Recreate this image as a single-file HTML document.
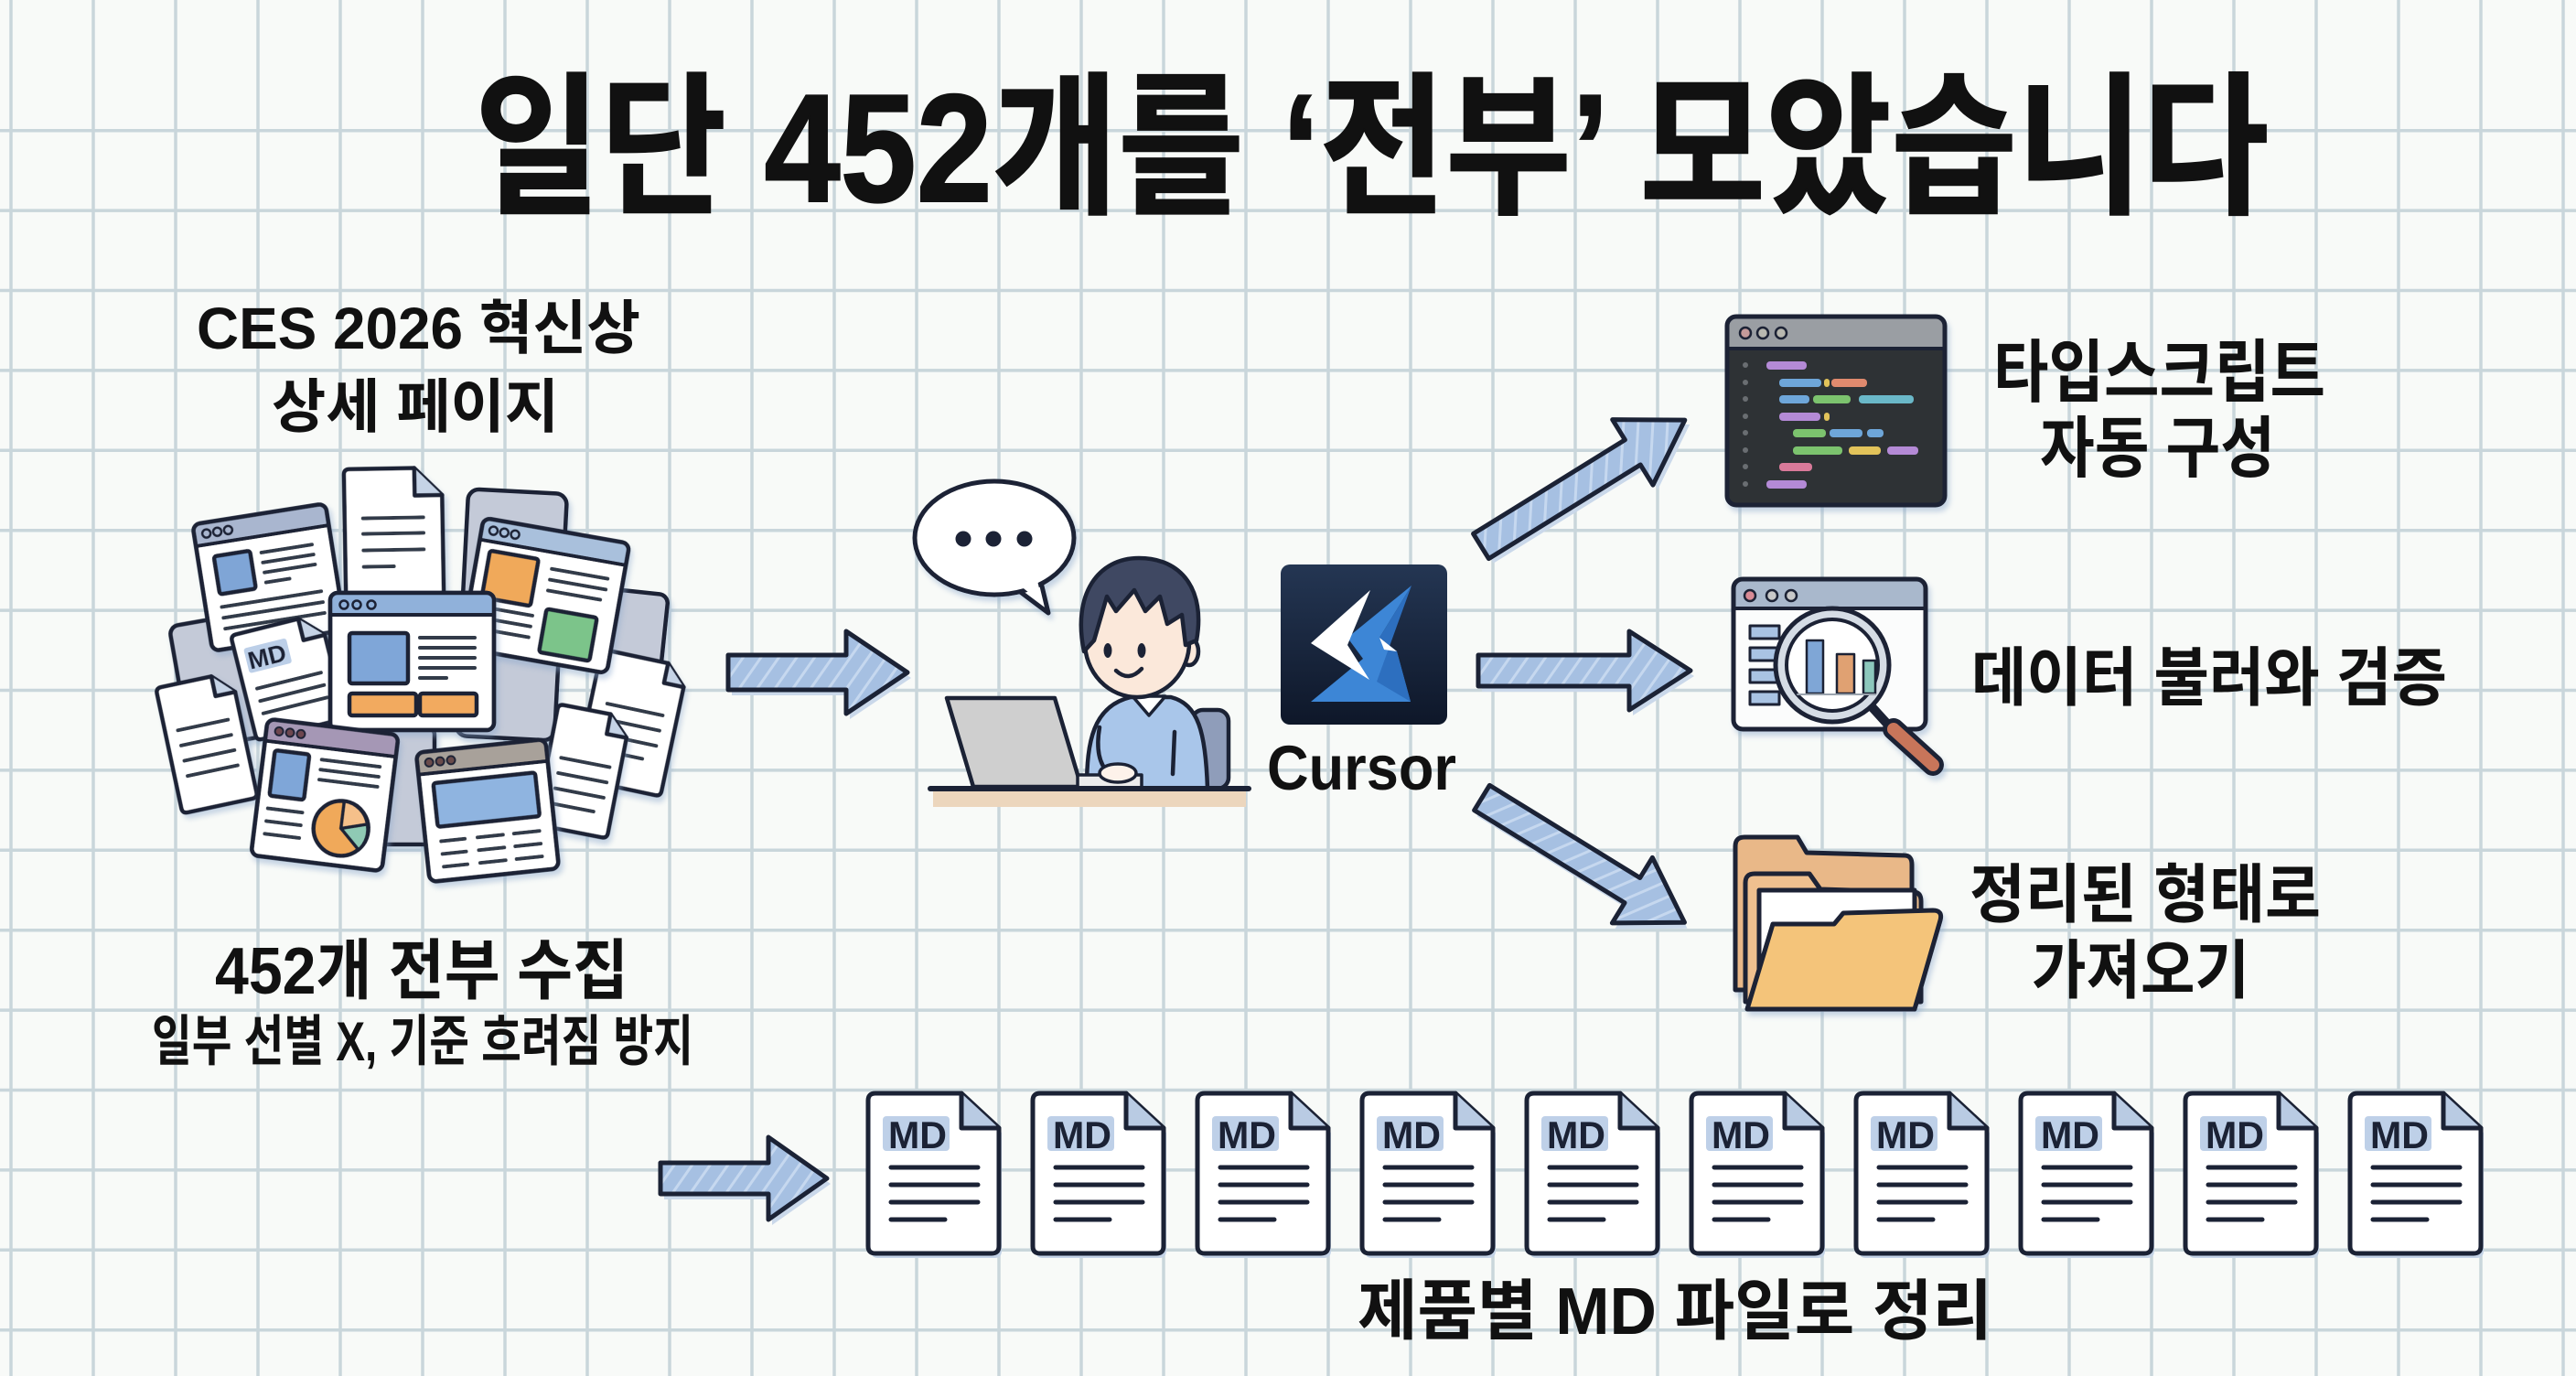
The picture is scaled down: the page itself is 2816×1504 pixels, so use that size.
<!DOCTYPE html>
<html><head><meta charset="utf-8"><style>
html,body{margin:0;padding:0;background:#f8faf8;}
svg{display:block;}
text{font-family:"Liberation Sans","Noto Sans CJK KR",sans-serif;font-weight:700;fill:#111;}
</style></head><body>
<svg width="2816" height="1504" viewBox="0 0 2816 1504" xmlns="http://www.w3.org/2000/svg">
<defs>
<pattern id="hatch" width="16" height="16" patternUnits="userSpaceOnUse" patternTransform="rotate(35)">
<rect width="16" height="16" fill="#a6c0e2"/><line x1="4" y1="0" x2="4" y2="16" stroke="#c6d8ef" stroke-width="3"/></pattern>
<linearGradient id="cg" x1="0" y1="0" x2="0" y2="1"><stop offset="0" stop-color="#243653"/><stop offset="1" stop-color="#0e1729"/></linearGradient>
<filter id="sh" x="-20%" y="-20%" width="140%" height="140%"><feDropShadow dx="3" dy="5" stdDeviation="3" flood-color="#8aa6cc" flood-opacity="0.45"/></filter>
</defs>
<rect width="2816" height="1504" fill="#f8faf8"/>
<g stroke="#c9d6db" stroke-width="3.5">
<line x1="12" y1="0" x2="12" y2="1504"/><line x1="102" y1="0" x2="102" y2="1504"/><line x1="192" y1="0" x2="192" y2="1504"/><line x1="282" y1="0" x2="282" y2="1504"/><line x1="372" y1="0" x2="372" y2="1504"/><line x1="462" y1="0" x2="462" y2="1504"/><line x1="552" y1="0" x2="552" y2="1504"/><line x1="642" y1="0" x2="642" y2="1504"/><line x1="732" y1="0" x2="732" y2="1504"/><line x1="822" y1="0" x2="822" y2="1504"/><line x1="912" y1="0" x2="912" y2="1504"/><line x1="1002" y1="0" x2="1002" y2="1504"/><line x1="1092" y1="0" x2="1092" y2="1504"/><line x1="1182" y1="0" x2="1182" y2="1504"/><line x1="1272" y1="0" x2="1272" y2="1504"/><line x1="1362" y1="0" x2="1362" y2="1504"/><line x1="1452" y1="0" x2="1452" y2="1504"/><line x1="1542" y1="0" x2="1542" y2="1504"/><line x1="1632" y1="0" x2="1632" y2="1504"/><line x1="1722" y1="0" x2="1722" y2="1504"/><line x1="1812" y1="0" x2="1812" y2="1504"/><line x1="1902" y1="0" x2="1902" y2="1504"/><line x1="1992" y1="0" x2="1992" y2="1504"/><line x1="2082" y1="0" x2="2082" y2="1504"/><line x1="2172" y1="0" x2="2172" y2="1504"/><line x1="2262" y1="0" x2="2262" y2="1504"/><line x1="2352" y1="0" x2="2352" y2="1504"/><line x1="2442" y1="0" x2="2442" y2="1504"/><line x1="2532" y1="0" x2="2532" y2="1504"/><line x1="2622" y1="0" x2="2622" y2="1504"/><line x1="2712" y1="0" x2="2712" y2="1504"/><line x1="2802" y1="0" x2="2802" y2="1504"/>
<line x1="0" y1="142.7" x2="2816" y2="142.7"/><line x1="0" y1="230.1" x2="2816" y2="230.1"/><line x1="0" y1="317.5" x2="2816" y2="317.5"/><line x1="0" y1="404.9" x2="2816" y2="404.9"/><line x1="0" y1="492.3" x2="2816" y2="492.3"/><line x1="0" y1="579.7" x2="2816" y2="579.7"/><line x1="0" y1="667.1" x2="2816" y2="667.1"/><line x1="0" y1="754.5" x2="2816" y2="754.5"/><line x1="0" y1="841.9" x2="2816" y2="841.9"/><line x1="0" y1="929.3" x2="2816" y2="929.3"/><line x1="0" y1="1016.7" x2="2816" y2="1016.7"/><line x1="0" y1="1104.1" x2="2816" y2="1104.1"/><line x1="0" y1="1191.5" x2="2816" y2="1191.5"/><line x1="0" y1="1278.9" x2="2816" y2="1278.9"/><line x1="0" y1="1366.3" x2="2816" y2="1366.3"/><line x1="0" y1="1453.7" x2="2816" y2="1453.7"/>
</g>

<!-- Title -->
<text x="519" y="220" font-size="168" textLength="1961" lengthAdjust="spacingAndGlyphs" stroke="#111" stroke-width="2">일단 452개를 ‘전부’ 모았습니다</text>

<!-- Left labels -->
<text x="215" y="381" font-size="64" textLength="485" lengthAdjust="spacingAndGlyphs">CES 2026 혁신상</text>
<text x="297" y="467" font-size="64" textLength="314" lengthAdjust="spacingAndGlyphs">상세 페이지</text>
<text x="235" y="1086" font-size="72" textLength="452" lengthAdjust="spacingAndGlyphs">452개 전부 수집</text>
<text x="166" y="1159" font-size="60" textLength="592" lengthAdjust="spacingAndGlyphs">일부 선별 X, 기준 흐려짐 방지</text>

<!-- Document pile -->
<g stroke="#1b2235" stroke-width="4.5" stroke-linejoin="round" stroke-linecap="round">
 <g filter="url(#sh)">
  <rect x="505" y="537" width="108" height="270" rx="12" fill="#c4cad8" transform="rotate(3 559 672)"/>
  <rect x="196" y="677" width="80" height="136" rx="10" fill="#c4cad8" transform="rotate(-10 236 745)"/>
  <rect x="666" y="647" width="58" height="133" rx="10" fill="#c4cad8" transform="rotate(6 695 713)"/>
  <rect x="413" y="795" width="62" height="128" rx="8" fill="#c4cad8"/>
 </g>
 <!-- right doc D8 -->
 <g transform="translate(690 790) rotate(12)" filter="url(#sh)">
  <path d="M-42,-72 H26 L48,-50 V66 Q48,72 42,72 H-42 Q-48,72 -48,66 V-66 Q-48,-72 -42,-72 Z" fill="#fff"/>
  <path d="M26,-72 V-50 H48" fill="#c5d3e6"/>
  <g stroke-width="4" stroke="#333b48"><line x1="-30" y1="-15" x2="32" y2="-15"/><line x1="-30" y1="2" x2="32" y2="2"/><line x1="-30" y1="19" x2="32" y2="19"/><line x1="-30" y1="36" x2="20" y2="36"/></g>
 </g>
 <!-- W2 top-left window -->
 <g transform="translate(294 631) rotate(-9)" filter="url(#sh)">
  <rect x="-73.5" y="-70" width="147" height="140" rx="8" fill="#fff"/>
  <rect x="-73.5" y="-70" width="147" height="24" rx="8" fill="#a9b6cf" stroke="none"/>
  <line x1="-73.5" y1="-46" x2="73.5" y2="-46" stroke-width="4"/>
  <g stroke-width="2.5" fill="none"><circle cx="-60" cy="-58" r="4.5"/><circle cx="-48" cy="-58" r="4.5"/><circle cx="-36" cy="-58" r="4.5"/></g>
  <rect x="-56" y="-32" width="40" height="42" rx="3" fill="#7fa5d6"/>
  <g stroke-width="4" stroke="#333b48"><line x1="-4" y1="-28" x2="52" y2="-28"/><line x1="-4" y1="-17" x2="52" y2="-17"/><line x1="-4" y1="-6" x2="52" y2="-6"/><line x1="-4" y1="5" x2="22" y2="5"/><line x1="-56" y1="24" x2="54" y2="24"/><line x1="-56" y1="36" x2="54" y2="36"/><line x1="-56" y1="48" x2="54" y2="48"/></g>
  <rect x="-73.5" y="-70" width="147" height="140" rx="8" fill="none"/>
 </g>
 <!-- T3 tall doc -->
 <g transform="translate(430 582) rotate(-1)" filter="url(#sh)">
  <path d="M-47,-70 H24 L54,-40 V64 Q54,70 48,70 H-47 Q-53,70 -53,64 V-64 Q-53,-70 -47,-70 Z" fill="#fff"/>
  <path d="M24,-70 V-40 H54" fill="#c5d3e6"/>
  <g stroke-width="4" stroke="#333b48"><line x1="-33" y1="-16" x2="33" y2="-16"/><line x1="-33" y1="1" x2="33" y2="1"/><line x1="-33" y1="19" x2="33" y2="19"/><line x1="-33" y1="37" x2="0" y2="37"/></g>
 </g>
 <!-- W4 top-right window -->
 <g transform="translate(596 651) rotate(10)" filter="url(#sh)">
  <rect x="-81" y="-72" width="162" height="144" rx="8" fill="#fff"/>
  <rect x="-81" y="-72" width="162" height="24" rx="8" fill="#a9c0dc" stroke="none"/>
  <line x1="-81" y1="-48" x2="81" y2="-48" stroke-width="4"/>
  <g stroke-width="2.5" fill="none"><circle cx="-68" cy="-60" r="4.5"/><circle cx="-56" cy="-60" r="4.5"/><circle cx="-44" cy="-60" r="4.5"/></g>
  <rect x="-68" y="-38" width="54" height="52" rx="3" fill="#f0a95a"/>
  <rect x="4" y="14" width="56" height="48" rx="3" fill="#7cc48a"/>
  <g stroke-width="4" stroke="#333b48"><line x1="2" y1="-30" x2="64" y2="-30"/><line x1="2" y1="-18" x2="64" y2="-18"/><line x1="2" y1="-6" x2="60" y2="-6"/><line x1="-68" y1="24" x2="-10" y2="24"/><line x1="-68" y1="36" x2="-10" y2="36"/><line x1="-68" y1="48" x2="-10" y2="48"/></g>
  <rect x="-81" y="-72" width="162" height="144" rx="8" fill="none"/>
 </g>
 <!-- D5 MD doc -->
 <g transform="translate(315 740) rotate(-14)" filter="url(#sh)">
  <path d="M-44,-59 H26 L50,-35 V53 Q50,59 44,59 H-44 Q-50,59 -50,53 V-53 Q-50,-59 -44,-59 Z" fill="#fff"/>
  <path d="M26,-59 V-35 H50" fill="#c5d3e6"/>
  <rect x="-40" y="-42" width="48" height="28" rx="3" fill="#bccfe8" stroke="none"/>
  <text x="-38" y="-18" font-size="27" textLength="42" lengthAdjust="spacingAndGlyphs" stroke="none" style="fill:#1b2235">MD</text>
  <g stroke-width="4" stroke="#333b48"><line x1="-36" y1="4" x2="36" y2="4"/><line x1="-36" y1="18" x2="36" y2="18"/><line x1="-36" y1="32" x2="36" y2="32"/></g>
 </g>
 <!-- D6 left doc -->
 <g transform="translate(226 812) rotate(-12)" filter="url(#sh)">
  <path d="M-36,-70 H20 L42,-48 V64 Q42,70 36,70 H-36 Q-42,70 -42,64 V-64 Q-42,-70 -36,-70 Z" fill="#fff"/>
  <path d="M20,-70 V-48 H42" fill="#c5d3e6"/>
  <g stroke-width="4" stroke="#333b48"><line x1="-28" y1="-20" x2="28" y2="-20"/><line x1="-28" y1="-3" x2="28" y2="-3"/><line x1="-28" y1="14" x2="28" y2="14"/><line x1="-28" y1="31" x2="28" y2="31"/></g>
 </g>
 <!-- W7 center window -->
 <g filter="url(#sh)">
  <rect x="361" y="648" width="179" height="150" rx="8" fill="#fff"/>
  <rect x="361" y="648" width="179" height="24" rx="8" fill="#90b1da" stroke="none"/>
  <line x1="361" y1="672" x2="540" y2="672" stroke-width="4"/>
  <g stroke-width="2.5" fill="none"><circle cx="376" cy="661" r="4.5"/><circle cx="390" cy="661" r="4.5"/><circle cx="406" cy="661" r="4.5"/></g>
  <rect x="382" y="692" width="64" height="55" rx="3" fill="#7fa6d8"/>
  <g stroke-width="4" stroke="#333b48"><line x1="459" y1="697" x2="519" y2="697"/><line x1="459" y1="708" x2="519" y2="708"/><line x1="459" y1="719" x2="519" y2="719"/><line x1="459" y1="730" x2="519" y2="730"/><line x1="459" y1="741" x2="488" y2="741"/></g>
  <rect x="382" y="758" width="73" height="24" rx="3" fill="#f2aa5f"/>
  <rect x="459" y="758" width="62" height="24" rx="3" fill="#f2aa5f"/>
  <rect x="361" y="648" width="179" height="150" rx="8" fill="none"/>
 </g>
 <!-- D9 right lower doc -->
 <g transform="translate(637 843) rotate(11)" filter="url(#sh)">
  <path d="M-34,-67 H18 L40,-45 V61 Q40,67 34,67 H-34 Q-40,67 -40,61 V-61 Q-40,-67 -34,-67 Z" fill="#fff"/>
  <path d="M18,-67 V-45 H40" fill="#c5d3e6"/>
  <g stroke-width="4" stroke="#333b48"><line x1="-26" y1="-10" x2="28" y2="-10"/><line x1="-26" y1="7" x2="28" y2="7"/><line x1="-26" y1="24" x2="28" y2="24"/><line x1="-26" y1="41" x2="20" y2="41"/></g>
 </g>
 <!-- W10 bottom-left window -->
 <g transform="translate(355 869) rotate(7)" filter="url(#sh)">
  <rect x="-72" y="-75" width="144" height="150" rx="8" fill="#fff"/>
  <rect x="-72" y="-75" width="144" height="24" rx="8" fill="#a597b5" stroke="none"/>
  <line x1="-72" y1="-51" x2="72" y2="-51" stroke-width="4"/>
  <g stroke-width="2" fill="#6e4650"><circle cx="-58" cy="-63" r="4.5"/><circle cx="-46" cy="-63" r="4.5"/><circle cx="-34" cy="-63" r="4.5"/></g>
  <rect x="-60" y="-42" width="38" height="50" rx="3" fill="#7fa6d8"/>
  <g stroke-width="4" stroke="#333b48"><line x1="-8" y1="-38" x2="56" y2="-38"/><line x1="-8" y1="-27" x2="56" y2="-27"/><line x1="-8" y1="-16" x2="56" y2="-16"/><line x1="-60" y1="22" x2="-22" y2="22"/><line x1="-60" y1="36" x2="-22" y2="36"/><line x1="-60" y1="50" x2="-22" y2="50"/></g>
  <circle cx="22" cy="34" r="30" fill="#f0a95a"/>
  <path d="M22,34 L50,26 A30,30 0 0,1 44,55 Z" fill="#8fcab4" stroke-width="3.5"/>
  <path d="M22,34 L22,4 A30,30 0 0,1 50,26 Z" fill="#f5c08a" stroke-width="3.5"/>
  <rect x="-72" y="-75" width="144" height="150" rx="8" fill="none"/>
 </g>
 <!-- W11 bottom-right window -->
 <g transform="translate(533 886) rotate(-6)" filter="url(#sh)">
  <rect x="-71" y="-71" width="142" height="142" rx="8" fill="#fff"/>
  <rect x="-71" y="-71" width="142" height="24" rx="8" fill="#a8a19a" stroke="none"/>
  <line x1="-71" y1="-47" x2="71" y2="-47" stroke-width="4"/>
  <g stroke-width="2" fill="#6b4c4c"><circle cx="-58" cy="-59" r="4.5"/><circle cx="-46" cy="-59" r="4.5"/><circle cx="-34" cy="-59" r="4.5"/></g>
  <rect x="-56" y="-36" width="112" height="48" rx="3" fill="#8fb4e0"/>
  <g stroke-width="4" stroke="#333b48"><line x1="-54" y1="28" x2="-28" y2="28"/><line x1="-14" y1="28" x2="14" y2="28"/><line x1="26" y1="28" x2="54" y2="28"/><line x1="-54" y1="42" x2="-28" y2="42"/><line x1="-14" y1="42" x2="14" y2="42"/><line x1="26" y1="42" x2="54" y2="42"/><line x1="-54" y1="56" x2="-28" y2="56"/><line x1="-14" y1="56" x2="14" y2="56"/><line x1="26" y1="56" x2="54" y2="56"/></g>
  <rect x="-71" y="-71" width="142" height="142" rx="8" fill="none"/>
 </g>
</g>

<!-- Arrows -->
<g stroke="#1b2235" stroke-width="5" stroke-linejoin="round">
 <g transform="translate(796 735)">
  <polygon points="0,-19 129,-19 129,-45 196,0 129,45 129,19 0,19" fill="#cad8ea" stroke="none" transform="translate(4 6)"/>
  <polygon points="0,-19 129,-19 129,-45 196,0 129,45 129,19 0,19" fill="url(#hatch)"/>
 </g>
 <g transform="translate(1616 733)">
  <polygon points="0,-17 165,-17 165,-43 232,0 165,43 165,17 0,17" fill="#cad8ea" stroke="none" transform="translate(4 6)"/>
  <polygon points="0,-17 165,-17 165,-43 232,0 165,43 165,17 0,17" fill="url(#hatch)"/>
 </g>
 <g transform="translate(1619 597) rotate(-31.75)">
  <polygon points="0,-16 195,-16 195,-42 262,0 195,42 195,16 0,16" fill="#cad8ea" stroke="none" transform="translate(2 7)"/>
  <polygon points="0,-16 195,-16 195,-42 262,0 195,42 195,16 0,16" fill="url(#hatch)"/>
 </g>
 <g transform="translate(1620 872) rotate(31.6)">
  <polygon points="0,-16 193,-16 193,-42 260,0 193,42 193,16 0,16" fill="#cad8ea" stroke="none" transform="translate(6 4)"/>
  <polygon points="0,-16 193,-16 193,-42 260,0 193,42 193,16 0,16" fill="url(#hatch)"/>
 </g>
 <g transform="translate(722 1288)">
  <polygon points="0,-17 118,-17 118,-45 182,0 118,45 118,17 0,17" fill="#cad8ea" stroke="none" transform="translate(4 6)"/>
  <polygon points="0,-17 118,-17 118,-45 182,0 118,45 118,17 0,17" fill="url(#hatch)"/>
 </g>
</g>

<!-- Speech bubble -->
<g stroke="#1b2235" stroke-width="5" stroke-linejoin="round" filter="url(#sh)">
 <polygon points="1106,640 1146,670 1136,628" fill="#fff"/>
 <ellipse cx="1087" cy="588" rx="87" ry="62" fill="#fff"/>
 <polygon points="1110,636 1140,660 1132,626" fill="#fff" stroke="none"/>
</g>
<g fill="#1b2235"><circle cx="1053" cy="589" r="8.5"/><circle cx="1086" cy="589" r="8.5"/><circle cx="1120" cy="589" r="8.5"/></g>

<!-- Person -->
<g stroke="#1b2235" stroke-width="4.5" stroke-linejoin="round" stroke-linecap="round">
 <rect x="1020" y="864" width="342" height="18" fill="#ecd6bd" stroke="none"/>
 <rect x="1303" y="776" width="40" height="86" rx="12" fill="#8f9dba"/>
 <path d="M1188,862 C1188,810 1195,772 1236,762 L1280,762 C1310,770 1318,800 1320,862 Z" fill="#a9c6ea"/>
 <path d="M1202,795 Q1196,830 1212,845" fill="none"/>
 <path d="M1284,800 L1282,846" fill="none"/>
 <polygon points="1238,761 1256,782 1274,761" fill="#fff" stroke-width="3.5"/>
 <ellipse cx="1300" cy="712" rx="10" ry="15" fill="#fbe8da"/>
 <ellipse cx="1243" cy="702" rx="57" ry="60" fill="#fbe8da"/>
 <path d="M1185,712 C1172,650 1200,610 1245,610 C1292,610 1318,645 1308,700 L1296,705 L1292,672 L1276,682 L1268,652 L1252,668 L1240,645 L1220,668 L1210,652 L1196,700 Z" fill="#3f4862"/>
 <ellipse cx="1211" cy="711" rx="4.5" ry="8" fill="#1b2235" stroke="none"/>
 <ellipse cx="1248" cy="711" rx="4.5" ry="8" fill="#1b2235" stroke="none"/>
 <path d="M1220,733 Q1234,746 1248,731" fill="none"/>
 <polygon points="1035,763 1153,763 1182,860 1064,860" fill="#cfcfcf"/>
 <rect x="1178" y="847" width="70" height="14" fill="#ececec" stroke-width="3.5"/>
 <ellipse cx="1222" cy="845" rx="20" ry="10" fill="#fdf2ea" stroke-width="3.5"/>
 <line x1="1017" y1="862" x2="1365" y2="862" stroke-width="6"/>
</g>

<!-- Cursor logo -->
<rect x="1400" y="617" width="182" height="175" rx="10" fill="url(#cg)"/>
<polygon points="1543,640 1473,697 1490,720 1433,767 1542,767 1527,712 1508,697" fill="#3d86d6"/>
<polygon points="1543,640 1508,697 1527,712 1542,767 1505,745" fill="#2d6fbf"/>
<polygon points="1498,645 1433,703 1497,743 1473,705" fill="#ffffff"/>
<polygon points="1508,697 1527,712 1513,710" fill="#ffffff"/>
<text x="1385" y="863" font-size="69" textLength="207" lengthAdjust="spacingAndGlyphs">Cursor</text>

<!-- Code window -->
<g filter="url(#sh)">
 <rect x="1888" y="346" width="238" height="206" rx="10" fill="#2e3235"/>
 <rect x="1888" y="346" width="238" height="35" rx="10" fill="#9a9ea3"/>
 <rect x="1888" y="366" width="238" height="15" fill="#9a9ea3"/>
 <line x1="1888" y1="381" x2="2126" y2="381" stroke="#1b2235" stroke-width="4"/>
 <g stroke="#1b2235" stroke-width="2.5"><circle cx="1908" cy="364" r="6" fill="#c49a9a"/><circle cx="1927" cy="364" r="6" fill="#b8b8b0"/><circle cx="1947" cy="364" r="6" fill="#b8b8b0"/></g>
 <g fill="#6a6e72"><circle cx="1908" cy="399" r="3"/><circle cx="1908" cy="418" r="3"/><circle cx="1908" cy="436" r="3"/><circle cx="1908" cy="455" r="3"/><circle cx="1908" cy="473" r="3"/><circle cx="1908" cy="492" r="3"/><circle cx="1908" cy="510" r="3"/><circle cx="1908" cy="529" r="3"/></g>
 <g>
  <rect x="1931" y="395" width="44" height="9" rx="4" fill="#b48ad6"/>
  <rect x="1945" y="414" width="46" height="9" rx="4" fill="#6ea6d9"/><rect x="1994" y="414" width="6" height="9" rx="3" fill="#e2c35a"/><rect x="2002" y="414" width="39" height="9" rx="4" fill="#e08a6e"/>
  <rect x="1945" y="432" width="33" height="9" rx="4" fill="#6ea6d9"/><rect x="1982" y="432" width="41" height="9" rx="4" fill="#7cc36e"/><rect x="2032" y="432" width="60" height="9" rx="4" fill="#6bb8c8"/>
  <rect x="1945" y="451" width="45" height="9" rx="4" fill="#b48ad6"/><rect x="1994" y="451" width="6" height="9" rx="3" fill="#e2c35a"/>
  <rect x="1960" y="469" width="36" height="9" rx="4" fill="#7cc36e"/><rect x="2000" y="469" width="36" height="9" rx="4" fill="#6ea6d9"/><rect x="2041" y="469" width="18" height="9" rx="4" fill="#6ea6d9"/>
  <rect x="1960" y="488" width="54" height="9" rx="4" fill="#7cc36e"/><rect x="2021" y="488" width="35" height="9" rx="4" fill="#e2c35a"/><rect x="2063" y="488" width="34" height="9" rx="4" fill="#b48ad6"/>
  <rect x="1945" y="506" width="36" height="9" rx="4" fill="#d97a9a"/>
  <rect x="1931" y="525" width="44" height="9" rx="4" fill="#b48ad6"/>
 </g>
 <rect x="1888" y="346" width="238" height="206" rx="10" fill="none" stroke="#1b2235" stroke-width="5"/>
</g>
<text x="2179" y="433" font-size="75" textLength="363" lengthAdjust="spacingAndGlyphs">타입스크립트</text>
<text x="2230" y="515" font-size="73" textLength="257" lengthAdjust="spacingAndGlyphs">자동 구성</text>

<!-- Magnifier window -->
<g stroke="#1b2235" stroke-linejoin="round" stroke-linecap="round" filter="url(#sh)">
 <rect x="1895" y="633" width="210" height="164" rx="10" fill="#fbfcfc" stroke="none"/>
 <rect x="1895" y="633" width="210" height="32" rx="10" fill="#a9b8cc" stroke="none"/>
 <rect x="1895" y="650" width="210" height="15" fill="#a9b8cc" stroke="none"/>
 <line x1="1895" y1="665" x2="2105" y2="665" stroke-width="4"/>
 <g stroke-width="2.5"><circle cx="1913" cy="651" r="6" fill="#d88a95"/><circle cx="1937" cy="651" r="6" fill="#c8c8c8"/><circle cx="1958" cy="651" r="6" fill="#c8c8c8"/></g>
 <g stroke-width="3" fill="#a9c3e3"><rect x="1913" y="684" width="32" height="14"/><rect x="1913" y="708" width="32" height="14"/><rect x="1913" y="732" width="32" height="14"/><rect x="1913" y="756" width="32" height="14"/></g>
 <rect x="1895" y="633" width="210" height="164" rx="10" fill="none" stroke-width="5"/>
 <line x1="2042" y1="768" x2="2062" y2="790" stroke-width="10"/>
 <line x1="2070" y1="797" x2="2113" y2="836" stroke-width="24"/>
 <line x1="2070" y1="797" x2="2113" y2="836" stroke-width="14" stroke="#c8745a"/>
 <circle cx="2003" cy="727" r="62" fill="#d5dce5" stroke-width="5"/>
 <circle cx="2003" cy="727" r="50" fill="#ffffff" stroke-width="4"/>
 <rect x="1975" y="700" width="18" height="58" fill="#7fa6d6" stroke-width="2.5"/>
 <rect x="2008" y="715" width="19" height="43" fill="#e0a172" stroke-width="2.5"/>
 <rect x="2037" y="722" width="13" height="36" fill="#8cc7bd" stroke-width="2.5"/>
 <line x1="1965" y1="759" x2="2050" y2="759" stroke="#9aa3ad" stroke-width="2"/>
</g>
<text x="2155" y="765" font-size="70" textLength="520" lengthAdjust="spacingAndGlyphs">데이터 불러와 검증</text>

<!-- Folder -->
<g stroke="#1b2235" stroke-width="5" stroke-linejoin="round" filter="url(#sh)">
 <path d="M1897,1082 L1897,925 Q1897,915 1907,915 L1965,915 L1975,932 L2082,935 Q2090,935 2090,945 L2090,1082 Z" fill="#e9b888"/>
 <path d="M1908,1095 L1908,965 Q1908,955 1918,955 L1978,955 L1990,972 L2093,975 Q2100,976 2100,985 L2100,1095 Z" fill="#efc08f"/>
 <rect x="1923" y="973" width="170" height="120" fill="#ffffff"/>
 <path d="M1910,1103 L1938,1010 L2005,1010 L2015,998 L2113,995 Q2124,995 2121,1006 L2093,1103 Z" fill="#f4c47a"/>
</g>
<text x="2153" y="1002" font-size="70" textLength="384" lengthAdjust="spacingAndGlyphs">정리된 형태로</text>
<text x="2221" y="1085" font-size="70" textLength="238" lengthAdjust="spacingAndGlyphs">가져오기</text>

<!-- MD files row -->
<g stroke="#1b2235" stroke-width="5" stroke-linejoin="round" stroke-linecap="round">
<g transform="translate(949 1195)">
 <path d="M8,0 H102 L143,38 V167 Q143,175 135,175 H8 Q0,175 0,167 V8 Q0,0 8,0 Z" fill="#c3d2e6" stroke="none" transform="translate(3 5)"/>
 <path d="M8,0 H102 L143,38 V167 Q143,175 135,175 H8 Q0,175 0,167 V8 Q0,0 8,0 Z" fill="#fff"/>
 <path d="M102,0 V38 H143" fill="#b9cbe3"/>
 <rect x="16" y="25" width="73" height="38" rx="4" fill="#bed0e8" stroke="none"/>
 <text x="22" y="60" font-size="42" textLength="64" lengthAdjust="spacingAndGlyphs" stroke="none" style="fill:#1b2235">MD</text>
 <line x1="25" y1="81" x2="120" y2="81"/><line x1="25" y1="100" x2="120" y2="100"/><line x1="25" y1="119" x2="120" y2="119"/><line x1="25" y1="138" x2="84" y2="138"/>
</g>
<g transform="translate(1129 1195)">
 <path d="M8,0 H102 L143,38 V167 Q143,175 135,175 H8 Q0,175 0,167 V8 Q0,0 8,0 Z" fill="#c3d2e6" stroke="none" transform="translate(3 5)"/>
 <path d="M8,0 H102 L143,38 V167 Q143,175 135,175 H8 Q0,175 0,167 V8 Q0,0 8,0 Z" fill="#fff"/>
 <path d="M102,0 V38 H143" fill="#b9cbe3"/>
 <rect x="16" y="25" width="73" height="38" rx="4" fill="#bed0e8" stroke="none"/>
 <text x="22" y="60" font-size="42" textLength="64" lengthAdjust="spacingAndGlyphs" stroke="none" style="fill:#1b2235">MD</text>
 <line x1="25" y1="81" x2="120" y2="81"/><line x1="25" y1="100" x2="120" y2="100"/><line x1="25" y1="119" x2="120" y2="119"/><line x1="25" y1="138" x2="84" y2="138"/>
</g>
<g transform="translate(1309 1195)">
 <path d="M8,0 H102 L143,38 V167 Q143,175 135,175 H8 Q0,175 0,167 V8 Q0,0 8,0 Z" fill="#c3d2e6" stroke="none" transform="translate(3 5)"/>
 <path d="M8,0 H102 L143,38 V167 Q143,175 135,175 H8 Q0,175 0,167 V8 Q0,0 8,0 Z" fill="#fff"/>
 <path d="M102,0 V38 H143" fill="#b9cbe3"/>
 <rect x="16" y="25" width="73" height="38" rx="4" fill="#bed0e8" stroke="none"/>
 <text x="22" y="60" font-size="42" textLength="64" lengthAdjust="spacingAndGlyphs" stroke="none" style="fill:#1b2235">MD</text>
 <line x1="25" y1="81" x2="120" y2="81"/><line x1="25" y1="100" x2="120" y2="100"/><line x1="25" y1="119" x2="120" y2="119"/><line x1="25" y1="138" x2="84" y2="138"/>
</g>
<g transform="translate(1489 1195)">
 <path d="M8,0 H102 L143,38 V167 Q143,175 135,175 H8 Q0,175 0,167 V8 Q0,0 8,0 Z" fill="#c3d2e6" stroke="none" transform="translate(3 5)"/>
 <path d="M8,0 H102 L143,38 V167 Q143,175 135,175 H8 Q0,175 0,167 V8 Q0,0 8,0 Z" fill="#fff"/>
 <path d="M102,0 V38 H143" fill="#b9cbe3"/>
 <rect x="16" y="25" width="73" height="38" rx="4" fill="#bed0e8" stroke="none"/>
 <text x="22" y="60" font-size="42" textLength="64" lengthAdjust="spacingAndGlyphs" stroke="none" style="fill:#1b2235">MD</text>
 <line x1="25" y1="81" x2="120" y2="81"/><line x1="25" y1="100" x2="120" y2="100"/><line x1="25" y1="119" x2="120" y2="119"/><line x1="25" y1="138" x2="84" y2="138"/>
</g>
<g transform="translate(1669 1195)">
 <path d="M8,0 H102 L143,38 V167 Q143,175 135,175 H8 Q0,175 0,167 V8 Q0,0 8,0 Z" fill="#c3d2e6" stroke="none" transform="translate(3 5)"/>
 <path d="M8,0 H102 L143,38 V167 Q143,175 135,175 H8 Q0,175 0,167 V8 Q0,0 8,0 Z" fill="#fff"/>
 <path d="M102,0 V38 H143" fill="#b9cbe3"/>
 <rect x="16" y="25" width="73" height="38" rx="4" fill="#bed0e8" stroke="none"/>
 <text x="22" y="60" font-size="42" textLength="64" lengthAdjust="spacingAndGlyphs" stroke="none" style="fill:#1b2235">MD</text>
 <line x1="25" y1="81" x2="120" y2="81"/><line x1="25" y1="100" x2="120" y2="100"/><line x1="25" y1="119" x2="120" y2="119"/><line x1="25" y1="138" x2="84" y2="138"/>
</g>
<g transform="translate(1849 1195)">
 <path d="M8,0 H102 L143,38 V167 Q143,175 135,175 H8 Q0,175 0,167 V8 Q0,0 8,0 Z" fill="#c3d2e6" stroke="none" transform="translate(3 5)"/>
 <path d="M8,0 H102 L143,38 V167 Q143,175 135,175 H8 Q0,175 0,167 V8 Q0,0 8,0 Z" fill="#fff"/>
 <path d="M102,0 V38 H143" fill="#b9cbe3"/>
 <rect x="16" y="25" width="73" height="38" rx="4" fill="#bed0e8" stroke="none"/>
 <text x="22" y="60" font-size="42" textLength="64" lengthAdjust="spacingAndGlyphs" stroke="none" style="fill:#1b2235">MD</text>
 <line x1="25" y1="81" x2="120" y2="81"/><line x1="25" y1="100" x2="120" y2="100"/><line x1="25" y1="119" x2="120" y2="119"/><line x1="25" y1="138" x2="84" y2="138"/>
</g>
<g transform="translate(2029 1195)">
 <path d="M8,0 H102 L143,38 V167 Q143,175 135,175 H8 Q0,175 0,167 V8 Q0,0 8,0 Z" fill="#c3d2e6" stroke="none" transform="translate(3 5)"/>
 <path d="M8,0 H102 L143,38 V167 Q143,175 135,175 H8 Q0,175 0,167 V8 Q0,0 8,0 Z" fill="#fff"/>
 <path d="M102,0 V38 H143" fill="#b9cbe3"/>
 <rect x="16" y="25" width="73" height="38" rx="4" fill="#bed0e8" stroke="none"/>
 <text x="22" y="60" font-size="42" textLength="64" lengthAdjust="spacingAndGlyphs" stroke="none" style="fill:#1b2235">MD</text>
 <line x1="25" y1="81" x2="120" y2="81"/><line x1="25" y1="100" x2="120" y2="100"/><line x1="25" y1="119" x2="120" y2="119"/><line x1="25" y1="138" x2="84" y2="138"/>
</g>
<g transform="translate(2209 1195)">
 <path d="M8,0 H102 L143,38 V167 Q143,175 135,175 H8 Q0,175 0,167 V8 Q0,0 8,0 Z" fill="#c3d2e6" stroke="none" transform="translate(3 5)"/>
 <path d="M8,0 H102 L143,38 V167 Q143,175 135,175 H8 Q0,175 0,167 V8 Q0,0 8,0 Z" fill="#fff"/>
 <path d="M102,0 V38 H143" fill="#b9cbe3"/>
 <rect x="16" y="25" width="73" height="38" rx="4" fill="#bed0e8" stroke="none"/>
 <text x="22" y="60" font-size="42" textLength="64" lengthAdjust="spacingAndGlyphs" stroke="none" style="fill:#1b2235">MD</text>
 <line x1="25" y1="81" x2="120" y2="81"/><line x1="25" y1="100" x2="120" y2="100"/><line x1="25" y1="119" x2="120" y2="119"/><line x1="25" y1="138" x2="84" y2="138"/>
</g>
<g transform="translate(2389 1195)">
 <path d="M8,0 H102 L143,38 V167 Q143,175 135,175 H8 Q0,175 0,167 V8 Q0,0 8,0 Z" fill="#c3d2e6" stroke="none" transform="translate(3 5)"/>
 <path d="M8,0 H102 L143,38 V167 Q143,175 135,175 H8 Q0,175 0,167 V8 Q0,0 8,0 Z" fill="#fff"/>
 <path d="M102,0 V38 H143" fill="#b9cbe3"/>
 <rect x="16" y="25" width="73" height="38" rx="4" fill="#bed0e8" stroke="none"/>
 <text x="22" y="60" font-size="42" textLength="64" lengthAdjust="spacingAndGlyphs" stroke="none" style="fill:#1b2235">MD</text>
 <line x1="25" y1="81" x2="120" y2="81"/><line x1="25" y1="100" x2="120" y2="100"/><line x1="25" y1="119" x2="120" y2="119"/><line x1="25" y1="138" x2="84" y2="138"/>
</g>
<g transform="translate(2569 1195)">
 <path d="M8,0 H102 L143,38 V167 Q143,175 135,175 H8 Q0,175 0,167 V8 Q0,0 8,0 Z" fill="#c3d2e6" stroke="none" transform="translate(3 5)"/>
 <path d="M8,0 H102 L143,38 V167 Q143,175 135,175 H8 Q0,175 0,167 V8 Q0,0 8,0 Z" fill="#fff"/>
 <path d="M102,0 V38 H143" fill="#b9cbe3"/>
 <rect x="16" y="25" width="73" height="38" rx="4" fill="#bed0e8" stroke="none"/>
 <text x="22" y="60" font-size="42" textLength="64" lengthAdjust="spacingAndGlyphs" stroke="none" style="fill:#1b2235">MD</text>
 <line x1="25" y1="81" x2="120" y2="81"/><line x1="25" y1="100" x2="120" y2="100"/><line x1="25" y1="119" x2="120" y2="119"/><line x1="25" y1="138" x2="84" y2="138"/>
</g>
</g>
<text x="1484" y="1458" font-size="72" textLength="694" lengthAdjust="spacingAndGlyphs">제품별 MD 파일로 정리</text>
</svg>
</body></html>
